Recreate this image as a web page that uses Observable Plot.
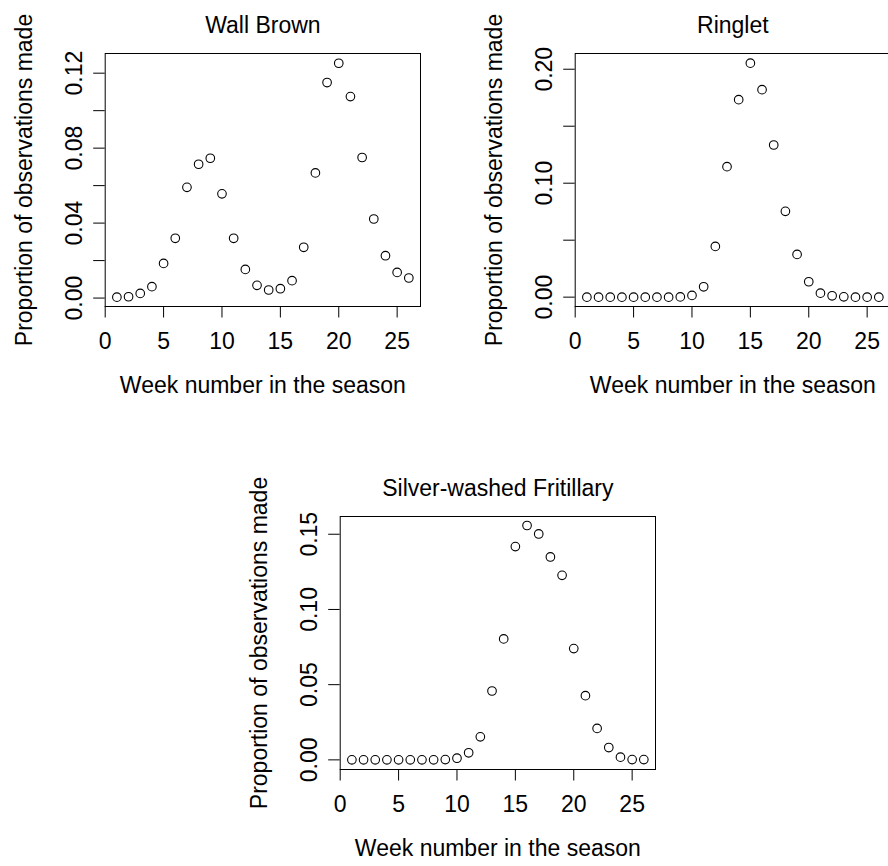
<!DOCTYPE html>
<html>
<head>
<meta charset="utf-8">
<script src="https://cdn.jsdelivr.net/npm/d3@7"></script>
<script src="https://cdn.jsdelivr.net/npm/@observablehq/plot@0.6"></script>
<style>
  html, body { margin: 0; padding: 0; background: #fff; }
  #wrap { position: relative; width: 888px; height: 866px; overflow: hidden; background: #fff; }
  .panel { position: absolute; }
  .panel svg { max-width: none !important; }
</style>
</head>
<body>
<div id="wrap"></div>
<script>
const weeks = [1,2,3,4,5,6,7,8,9,10,11,12,13,14,15,16,17,18,19,20,21,22,23,24,25,26];

const wallBrown = [0.0005,0.0007,0.0025,0.0061,0.0185,0.0319,0.0591,0.0714,0.0746,0.0556,0.0319,0.0153,0.0068,0.0043,0.0050,0.0093,0.0271,0.0668,0.1150,0.1253,0.1075,0.0750,0.0422,0.0226,0.0137,0.0107];
const ringlet = [0,0,0,0,0,0,0,0,0.0002,0.0015,0.0091,0.0445,0.1145,0.1733,0.2053,0.1821,0.1335,0.0753,0.0375,0.0135,0.0035,0.0012,0.0003,0,0,0];
const fritillary = [0,0,0,0,0,0,0,0,0.0002,0.0011,0.0047,0.0153,0.0458,0.0804,0.1418,0.1558,0.1502,0.1349,0.1227,0.0740,0.0427,0.0209,0.0082,0.0018,0.0002,0.0002];

const titles = ["Wall Brown", "Ringlet", "Silver-washed Fritillary"];
const xLabel = "Week number in the season";
const yLabel = "Proportion of observations made";

const xTicks = [0,5,10,15,20,25];
const wallTicks = [0,0.02,0.04,0.06,0.08,0.10,0.12];
const wallLabels = [0,0.04,0.08,0.12];
const ringTicks = [0,0.05,0.10,0.15,0.20];
const ringLabels = [0,0.10,0.20];
const fritTicks = [0,0.05,0.10,0.15];
const fritLabels = [0,0.05,0.10,0.15];

const FONT = "'Liberation Sans', Arial, Helvetica, sans-serif";
const FS = 23;
const fmt = d3.format(".2f");

function panel({title, values, yDomain, yTicks, yLabels, left, top}) {
  const data = weeks.map((w, i) => ({week: w, value: values[i]}));
  const chart = Plot.plot({
    width: 444,
    height: 406,
    marginLeft: 104.7,
    marginRight: 24,
    marginTop: 53,
    marginBottom: 100,
    x: {domain: [0, 27]},
    y: {domain: yDomain},
    style: {fontFamily: FONT, fontSize: FS + "px", background: "transparent", color: "#000"},
    marks: [
      Plot.frame({stroke: "#000", strokeWidth: 1}),
      Plot.axisX({ticks: xTicks, tickSize: 11.5, tickFormat: () => "", label: null, stroke: "#000", strokeWidth: 1}),
      Plot.axisY({ticks: yTicks, tickSize: 11.5, tickFormat: () => "", label: null, stroke: "#000", strokeWidth: 1}),
      Plot.text(xTicks, {x: d => d, text: d => String(d), frameAnchor: "bottom", dy: 42.3, lineAnchor: "bottom", fontSize: FS, fill: "#000"}),
      Plot.text(yLabels, {y: d => d, text: d => fmt(d), frameAnchor: "left", dx: -23, rotate: -90, textAnchor: "middle", lineAnchor: "bottom", fontSize: FS, fill: "#000"}),
      Plot.text([title], {frameAnchor: "top", dy: -20.7, lineAnchor: "bottom", fontSize: FS, fill: "#000"}),
      Plot.text([xLabel], {frameAnchor: "bottom", dy: 86.7, lineAnchor: "bottom", fontSize: FS, fill: "#000"}),
      Plot.text([yLabel], {frameAnchor: "left", dx: -73, rotate: -90, textAnchor: "middle", lineAnchor: "bottom", fontSize: FS, fill: "#000"}),
      Plot.dot(data, {x: "week", y: "value", r: 4.3, stroke: "#000", strokeWidth: 1.1, fill: "none"})
    ]
  });
  const div = document.createElement("div");
  div.className = "panel";
  div.style.left = left + "px";
  div.style.top = top + "px";
  div.appendChild(chart);
  document.getElementById("wrap").appendChild(div);
}

panel({title: titles[0], values: wallBrown, yDomain: [-0.0045, 0.1305], yTicks: wallTicks, yLabels: wallLabels, left: 0, top: 0});
panel({title: titles[1], values: ringlet, yDomain: [-0.0082, 0.2138], yTicks: ringTicks, yLabels: ringLabels, left: 470, top: 0});
panel({title: titles[2], values: fritillary, yDomain: [-0.0064, 0.1618], yTicks: fritTicks, yLabels: fritLabels, left: 235.3, top: 462.7});
</script>
</body>
</html>
